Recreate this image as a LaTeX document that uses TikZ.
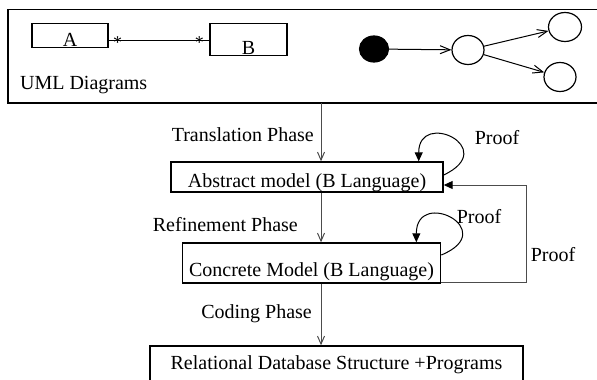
\documentclass[tikz,border=0pt]{standalone}
\usepackage{fontspec}
\setmainfont{Liberation Serif}
\usetikzlibrary{arrows.meta, shapes.geometric, calc}

\begin{document}
\begin{tikzpicture}[x=0.5pt, y=-0.5pt,
  box/.style={draw, line width=0.7pt, inner ysep=0pt, anchor=base},
  cls/.style={draw, line width=0.6pt, inner sep=0pt, text depth=0.5pt, anchor=base},
  state/.style={draw, ellipse, line width=0.6pt, inner sep=0pt},
  flow/.style={draw=black!70, line width=0.5pt, -{Straight Barb[length=4pt,width=3.5pt]}},
  trans/.style={line width=0.5pt, -{Straight Barb[length=5pt,width=4pt]}},
  proof/.style={line width=0.5pt, -{Triangle[length=4.5pt,width=4pt,color=black]}}]
  \useasboundingbox (0,0) rectangle (597,379);
  \clip (0,0) rectangle (597,379);

  % UML frame (open to the right) with a class pair and a small state chart
  \node[minimum width=320pt, minimum height=46.5pt] (uml) at (328,56.5) {};
  \draw[line width=0.9pt] (uml.north east) -- (uml.north west) -- (uml.south west) -- (uml.south east);
  \node[anchor=west] (umltitle) at (13,85) {UML Diagrams};

  \node[cls, minimum width=38pt, text height=11.5pt] (clsA) at (70,46.5) {A};
  \node[cls, minimum width=38.5pt, text height=15.5pt] (clsB) at (248.5,54.5) {B};
  \draw[line width=0.5pt] (clsA.east |- 0,41) -- (clsB.west |- 0,41)
    node[pos=0.09, inner sep=0pt, yshift=-1pt, font=\small] (multA) {*}
    node[pos=0.9, inner sep=0pt, yshift=-1pt, font=\small] (multB) {*};

  \node[state, fill=black, minimum width=14.5pt, minimum height=13pt] (init) at (374,49) {};
  \node[state, minimum width=16pt, minimum height=14.5pt] (st1) at (468,50) {};
  \node[state, minimum width=16.5pt, minimum height=14.5pt] (st2) at (565,27) {};
  \node[state, minimum width=16pt, minimum height=14.5pt] (st3) at (560,77) {};
  \draw[trans] (init) -- (st1);
  \draw[trans] (st1) -- (st2);
  \draw[trans] (st1) -- (st3);

  % development chain
  \coordinate (spine) at (321,0);
  \node[box, minimum width=136pt, text height=12.5pt, text depth=2.5pt] (abs) at (307,187) {Abstract model (B Language)};
  \node[box, minimum width=126.5pt, text height=16.5pt, text depth=3.5pt] (con) at (311.5,276) {Concrete Model (B Language)};
  \node[box, minimum width=186.5pt, text height=11.5pt, text depth=12pt] (rel) at (336.5,369) {Relational Database Structure +Programs};

  \draw[flow] (uml.south -| spine) -- node[left, pos=0.54] (trlbl) {Translation Phase} (abs.north -| spine);
  \draw[flow] (abs.south -| spine) -- node[left=8pt, pos=0.65] (rflbl) {Refinement Phase} (con.north -| spine);
  \draw[flow] (con.south -| spine) -- node[left=1pt, pos=0.48] (cdlbl) {Coding Phase} (rel.north -| spine);

  % proof loops and feedback
  \draw[proof] (abs.east |- 0,175) .. controls +(57,-27) and +(0,-52) .. ($(abs.north east)+(-25,0)$);
  \draw[proof] (con.east |- 0,255) .. controls +(60,-25) and +(0,-55) .. ($(con.north east)+(-25,0)$);
  \draw[proof, draw=black!70] ($(con.south east)+(0,-1)$) -- ++(85,0) |- ($(abs.east)+(0,8)$);

  \node (pf1) at (497,138) {Proof};
  \node (pf2) at (479,217) {Proof};
  \node (pf3) at (553,255) {Proof};
\end{tikzpicture}
\end{document}
